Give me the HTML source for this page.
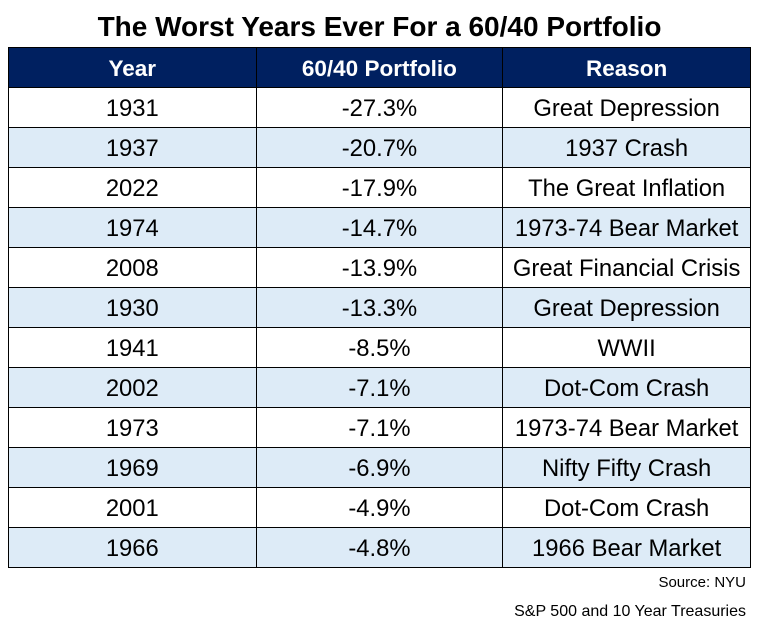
<!DOCTYPE html>
<html><head><style>
body{margin:0;width:757px;height:638px;background:#fff;font-family:"Liberation Sans",Arial,sans-serif;position:relative;overflow:hidden}
h1{position:absolute;top:11px;left:0;width:759px;text-align:center;margin:0;font-size:28px;font-weight:bold;color:#000}
table{position:absolute;left:8px;top:47px;border-collapse:collapse;width:743px}
td,th{border:1px solid #000;padding:2px 0 0 0;box-sizing:border-box;height:40px;text-align:center;font-size:23.8px;color:#000}
th{background:#002060;color:#fff;font-weight:bold;font-size:22.5px}
tr:nth-child(odd) td{background:#DDEBF7}
.s{position:absolute;right:11px}
</style></head><body>
<h1>The Worst Years Ever For a 60/40 Portfolio</h1>
<table>
<colgroup><col style="width:248px"><col style="width:247px"><col style="width:248px"></colgroup>
<tr><th>Year</th><th>60/40 Portfolio</th><th>Reason</th></tr>
<tr><td>1931</td><td>-27.3%</td><td>Great Depression</td></tr>
<tr><td>1937</td><td>-20.7%</td><td>1937 Crash</td></tr>
<tr><td>2022</td><td>-17.9%</td><td>The Great Inflation</td></tr>
<tr><td>1974</td><td>-14.7%</td><td>1973-74 Bear Market</td></tr>
<tr><td>2008</td><td>-13.9%</td><td>Great Financial Crisis</td></tr>
<tr><td>1930</td><td>-13.3%</td><td>Great Depression</td></tr>
<tr><td>1941</td><td>-8.5%</td><td>WWII</td></tr>
<tr><td>2002</td><td>-7.1%</td><td>Dot-Com Crash</td></tr>
<tr><td>1973</td><td>-7.1%</td><td>1973-74 Bear Market</td></tr>
<tr><td>1969</td><td>-6.9%</td><td>Nifty Fifty Crash</td></tr>
<tr><td>2001</td><td>-4.9%</td><td>Dot-Com Crash</td></tr>
<tr><td>1966</td><td>-4.8%</td><td>1966 Bear Market</td></tr>
</table>
<div class="s" style="top:574px;font-size:15px">Source: NYU</div>
<div class="s" style="top:603px;font-size:16px">S&amp;P 500 and 10 Year Treasuries</div>
</body></html>
